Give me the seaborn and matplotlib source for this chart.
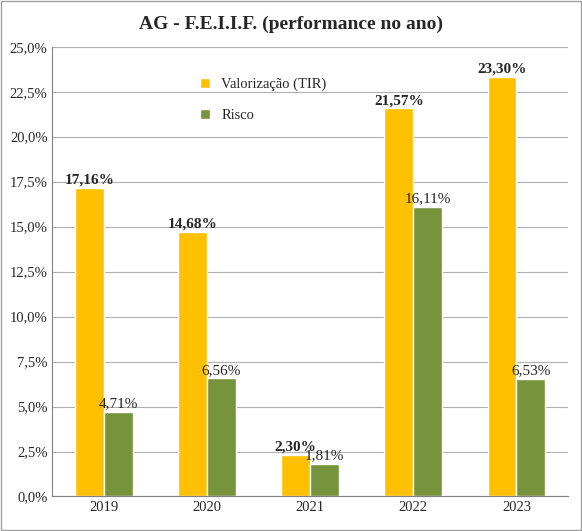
import matplotlib
matplotlib.use("Agg")
import matplotlib.pyplot as plt
import seaborn as sns
import pandas as pd
from matplotlib.ticker import FuncFormatter

years = ["2019", "2020", "2021", "2022", "2023"]
tir = [17.16, 14.68, 2.30, 21.57, 23.30]
risco = [4.71, 6.56, 1.81, 16.11, 6.53]
series = ["Valorização (TIR)", "Risco"]

df = pd.DataFrame({"Ano": years * 2, "Valor": tir + risco,
                   "Série": [series[0]] * 5 + [series[1]] * 5})

sns.set_style("white")
plt.rcParams['font.family'] = ['Liberation Serif', 'DejaVu Serif']
fig = plt.figure(figsize=(5.82, 5.31), dpi=100)
ax = fig.add_axes([0.09, 0.065, 0.886, 0.847])
sns.barplot(data=df, x="Ano", y="Valor", hue="Série", palette=["#FFC000", "#77933C"],
            width=0.56, gap=0, ax=ax, saturation=1)
ax.set_ylim(0, 25)
ax.set_yticks([i * 2.5 for i in range(11)])
ax.yaxis.set_major_formatter(FuncFormatter(lambda v, p: f"{v:.1f}%".replace(".", ",")))
ax.yaxis.grid(True, color="#b0b0b0", lw=0.8)
ax.set_axisbelow(True)
ax.set_xlabel(""); ax.set_ylabel("")
ax.tick_params(labelsize=10.5, length=0)
for s in ["top", "right"]:
    ax.spines[s].set_visible(False)
for s in ["left", "bottom"]:
    ax.spines[s].set_color("#808080")
for i, c in enumerate(ax.containers):
    labels = [f"{v:.2f}%".replace(".", ",") for v in c.datavalues]
    ax.bar_label(c, labels=labels, padding=1, fontsize=11,
                 fontweight="bold" if i == 0 else "normal")
ax.legend(loc="upper left", bbox_to_anchor=(0.26, 0.96), frameon=False, fontsize=10.5,
          handlelength=0.7, handleheight=0.7, labelspacing=1.2)
fig.suptitle("AG - F.E.I.I.F. (performance no ano)", y=0.97, fontsize=14, fontweight="bold")
fig.patches.append(plt.Rectangle((0.002, 0.002), 0.996, 0.996, transform=fig.transFigure,
                                 fill=False, edgecolor="#a0a0a0", lw=1))
fig.savefig("out.png", dpi=100)
